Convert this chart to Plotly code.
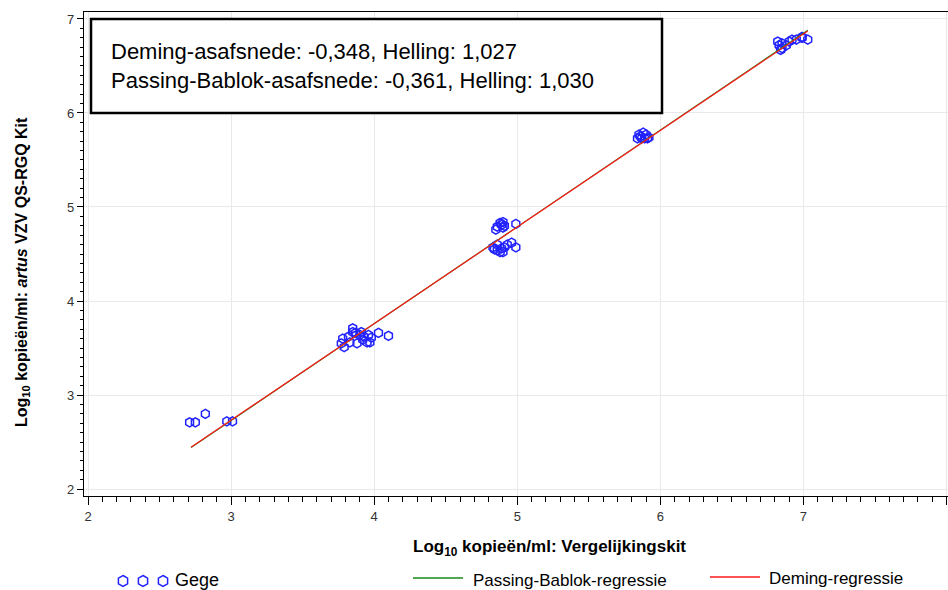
import plotly.graph_objects as go

# ---------------- data ----------------
x_vals = [2.71, 2.75, 2.82, 2.97, 3.01,
          3.77, 3.78, 3.79, 3.82, 3.83, 3.85, 3.85, 3.87, 3.88, 3.90, 3.91, 3.92, 3.93,
          3.95, 3.96, 3.97, 3.98, 4.03, 4.10,
          4.85, 4.86, 4.88, 4.89, 4.90, 4.90, 4.91, 4.99,
          4.83, 4.84, 4.86, 4.86, 4.88, 4.89, 4.90, 4.91, 4.93, 4.96, 4.99,
          5.84, 5.85, 5.86, 5.87, 5.88, 5.89, 5.90, 5.91, 5.92,
          6.82, 6.83, 6.84, 6.85, 6.85, 6.88, 6.90, 6.92, 6.95, 6.99, 6.99, 7.03]
y_vals = [2.71, 2.71, 2.80, 2.72, 2.72,
          3.55, 3.60, 3.51, 3.62, 3.56, 3.71, 3.67, 3.66, 3.55, 3.64, 3.67, 3.59, 3.62,
          3.56, 3.64, 3.56, 3.61, 3.66, 3.63,
          4.76, 4.79, 4.83, 4.81, 4.84, 4.78, 4.80, 4.82,
          4.57, 4.55, 4.54, 4.60, 4.52, 4.56, 4.52, 4.57, 4.60, 4.62, 4.57,
          5.73, 5.77, 5.75, 5.73, 5.79, 5.73, 5.77, 5.73, 5.74,
          6.76, 6.72, 6.67, 6.74, 6.69, 6.72, 6.76, 6.78, 6.78, 6.80, 6.81, 6.78]

fit_x = [2.72, 7.03]
deming_intercept, deming_slope = -0.348, 1.027
pb_intercept, pb_slope = -0.361, 1.030

x_ticks = [2, 3, 4, 5, 6, 7, 8]
y_ticks = [2, 3, 4, 5, 6, 7]

box_lines = ["Deming-asafsnede: -0,348, Helling: 1,027",
             "Passing-Bablok-asafsnede: -0,361, Helling: 1,030"]
legend_labels = ["Gege", "Passing-Bablok-regressie", "Deming-regressie"]

# ---------------- layout helpers ----------------
W, H = 948, 590
ML, MR, MT, MB = 84, 0, 12, 94
PW, PH = W - ML - MR, H - MT - MB


def px(sx):
    """screen x pixel -> paper x"""
    return (sx - ML) / PW


def py(sy):
    """screen y pixel -> paper y"""
    return (H - MB - sy) / PH


FONT = "Liberation Sans, Arial"
BLUE = "#2222ff"
RED = "#ff1a1a"
GREEN = "#1a8a1a"

fig = go.Figure()

fig.add_trace(go.Scatter(
    x=x_vals, y=y_vals, mode="markers", name=legend_labels[0],
    marker=dict(symbol="hexagon-open", size=9, color=BLUE, line=dict(width=1.5, color=BLUE)),
    showlegend=False))

fig.add_trace(go.Scatter(
    x=fit_x, y=[pb_intercept + pb_slope * v for v in fit_x], mode="lines",
    name=legend_labels[1], line=dict(color=GREEN, width=1.2), showlegend=False))

fig.add_trace(go.Scatter(
    x=fit_x, y=[deming_intercept + deming_slope * v for v in fit_x], mode="lines",
    name=legend_labels[2], line=dict(color=RED, width=1.2), showlegend=False))

shapes = []
annotations = []

# statistics box
shapes.append(dict(type="rect", xref="paper", yref="paper",
                   x0=px(91), x1=px(662), y0=py(113), y1=py(19),
                   line=dict(color="black", width=2.5), fillcolor="white", layer="above"))
annotations.append(dict(xref="paper", yref="paper", x=px(109), y=py(66), xanchor="left",
                        yanchor="middle", align="left", showarrow=False,
                        text=box_lines[0] + "<br>" + box_lines[1],
                        font=dict(family=FONT, size=22, color="black")))

# axis titles
annotations.append(dict(xref="paper", yref="paper", x=px(549), y=py(548), showarrow=False,
                        xanchor="center", yanchor="middle",
                        text="<b>Log<sub>10</sub> kopieën/ml: Vergelijkingskit</b>",
                        font=dict(family=FONT, size=17, color="black")))
annotations.append(dict(xref="paper", yref="paper", x=px(22), y=py(272), showarrow=False,
                        xanchor="center", yanchor="middle", textangle=-90,
                        text="<b>Log<sub>10</sub> kopieën/ml: <i>artus</i> VZV QS-RGQ Kit</b>",
                        font=dict(family=FONT, size=16, color="black")))

# custom legend
leg_y = 580
hexpath = "M 0,5.5 L 4.6,2.8 L 4.6,-2.8 L 0,-5.5 L -4.6,-2.8 L -4.6,2.8 Z"
for cx in (123, 143, 163):
    shapes.append(dict(type="path", xref="paper", yref="paper", xsizemode="pixel",
                       ysizemode="pixel", xanchor=px(cx), yanchor=py(leg_y + 1), path=hexpath,
                       line=dict(color=BLUE, width=1.5)))
annotations.append(dict(xref="paper", yref="paper", x=px(173), y=py(leg_y), xanchor="left",
                        yanchor="middle", showarrow=False, text=legend_labels[0],
                        font=dict(family=FONT, size=18, color="black")))
shapes.append(dict(type="line", xref="paper", yref="paper", x0=px(413), x1=px(463),
                   y0=py(578), y1=py(578), line=dict(color=GREEN, width=1.5)))
annotations.append(dict(xref="paper", yref="paper", x=px(471), y=py(leg_y), xanchor="left",
                        yanchor="middle", showarrow=False, text=legend_labels[1],
                        font=dict(family=FONT, size=17, color="black")))
shapes.append(dict(type="line", xref="paper", yref="paper", x0=px(710), x1=px(760),
                   y0=py(577), y1=py(577), line=dict(color=RED, width=1.5)))
annotations.append(dict(xref="paper", yref="paper", x=px(767), y=py(leg_y - 2), xanchor="left",
                        yanchor="middle", showarrow=False, text=legend_labels[2],
                        font=dict(family=FONT, size=17, color="black")))

axis_common = dict(showline=True, linecolor="black", linewidth=1.2, mirror=True,
                   showgrid=True, gridcolor="#e9e9e9", gridwidth=1, zeroline=False,
                   ticks="outside", tickcolor="black", tickwidth=1.2, automargin=False,
                   tickfont=dict(family=FONT, size=13, color="#333333"))

fig.update_layout(
    width=W, height=H, margin=dict(l=ML, r=MR, t=MT, b=MB),
    paper_bgcolor="white", plot_bgcolor="white", showlegend=False,
    shapes=shapes, annotations=annotations,
    xaxis=dict(range=[1.972, 8.01], tickvals=x_ticks, ticktext=[str(v) for v in x_ticks],
               ticklen=8, minor=dict(dtick=0.1, ticks="outside", ticklen=5, tickcolor="black",
                                     showgrid=False), **axis_common),
    yaxis=dict(range=[1.926, 7.074], tickvals=y_ticks, ticktext=[str(v) for v in y_ticks],
               ticklen=6, minor=dict(dtick=0.1, ticks="outside", ticklen=3, tickcolor="black",
                                     showgrid=False), **axis_common),
)

fig.write_html("out.html", config={"responsive": False, "displayModeBar": False},
               post_script="document.body.style.margin='0px';"
                           "document.body.style.overflow='hidden';")
